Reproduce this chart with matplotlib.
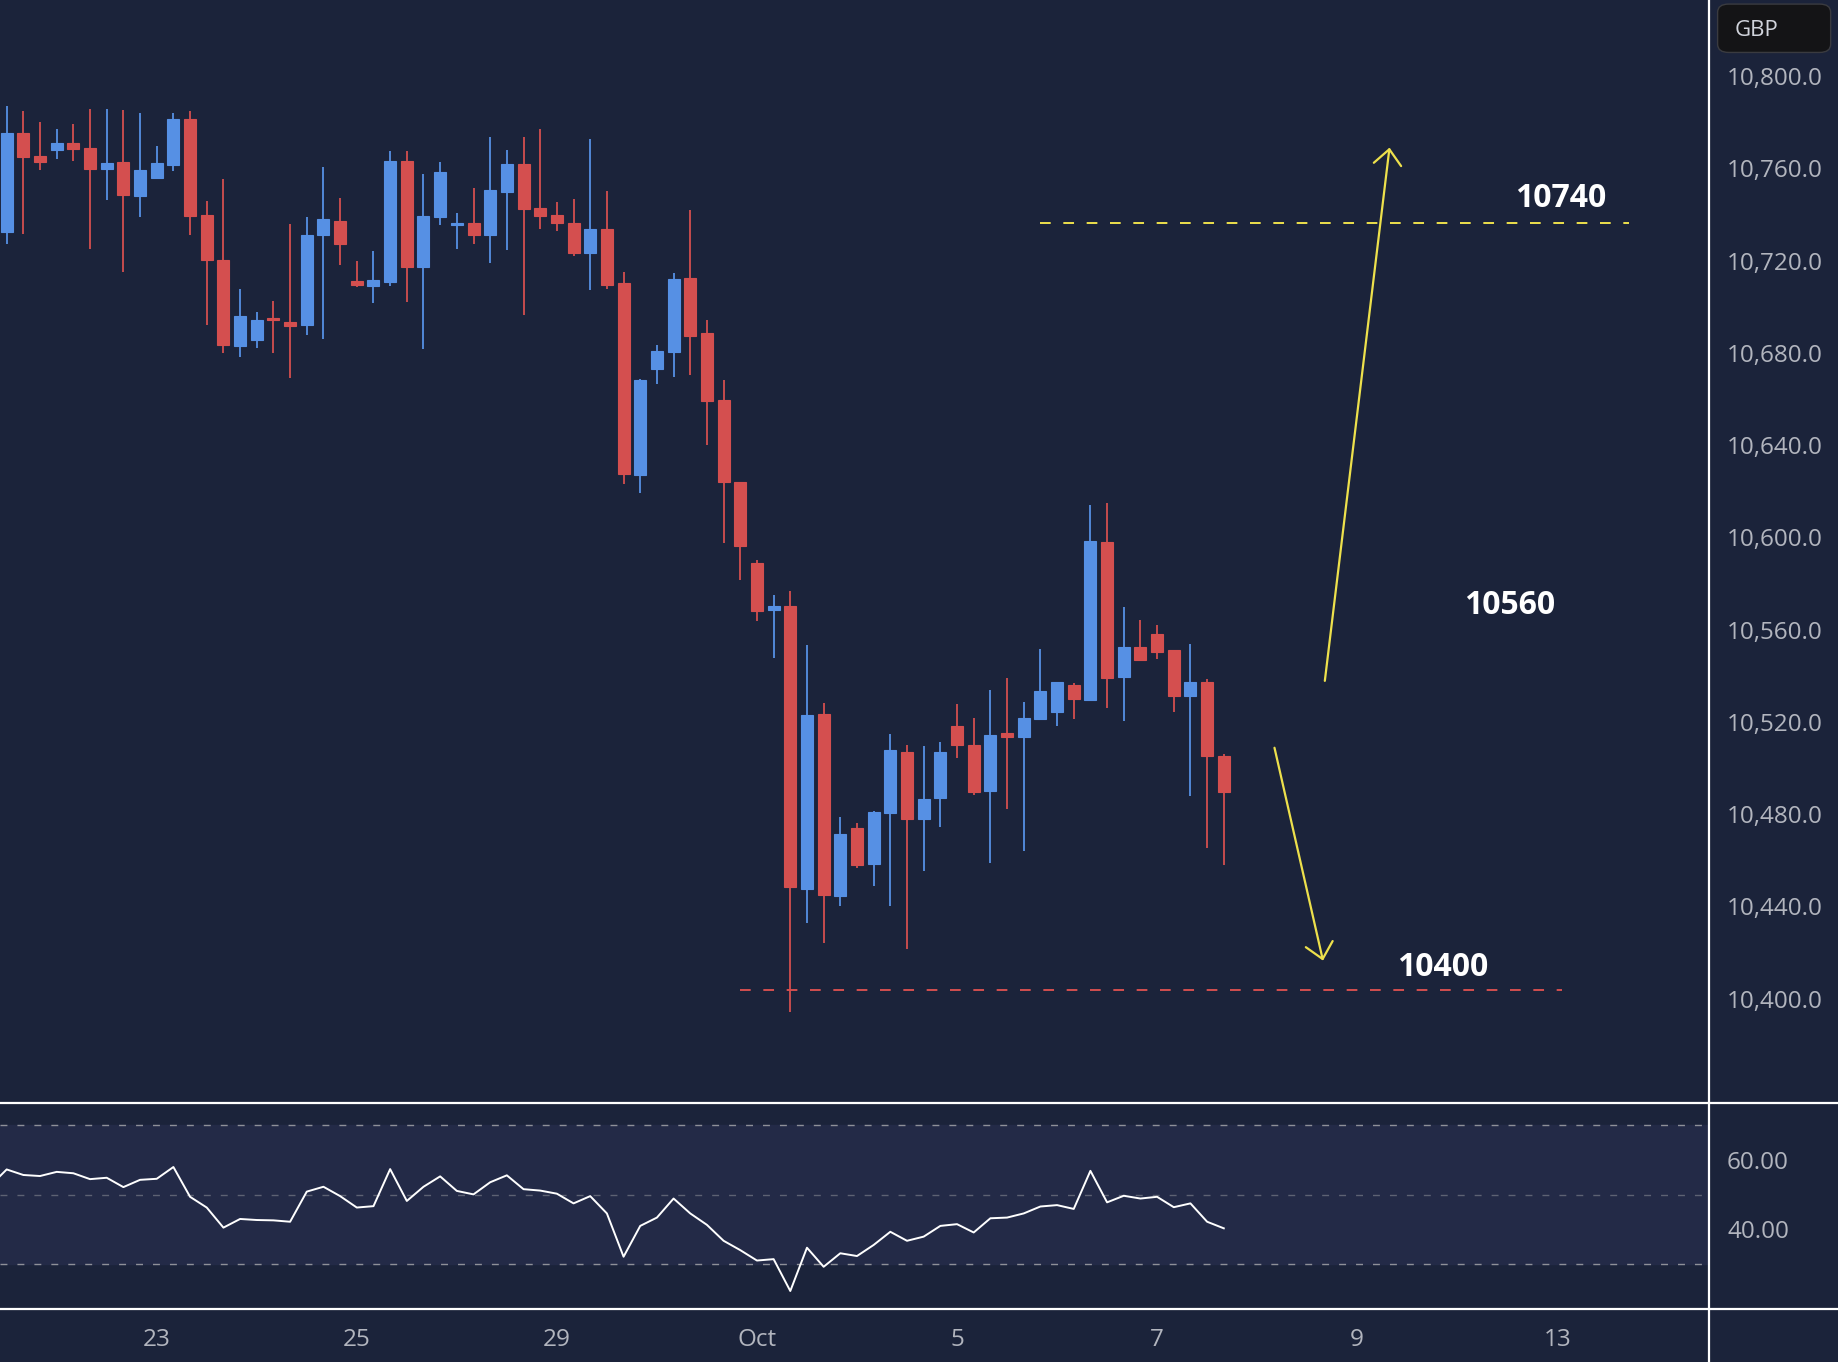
import numpy as np
import matplotlib.pyplot as plt
from matplotlib.lines import Line2D
from matplotlib.patches import FancyBboxPatch, FancyArrowPatch

# 4h candles, index 0..73
opens = [
    10732.2, 10775.2, 10765.2, 10768.0, 10770.9, 10769.0, 10759.8, 10762.6, 10748.0, 10755.9,
    10761.5, 10781.6, 10739.7, 10720.3, 10683.2, 10685.8, 10695.2, 10693.3, 10692.3, 10730.9,
    10737.1, 10711.1, 10709.2, 10710.9, 10763.1, 10717.4, 10739.1, 10735.6, 10736.2, 10731.3,
    10749.8, 10761.8, 10742.7, 10739.7, 10736.2, 10723.5, 10733.6, 10710.2, 10626.9, 10672.8,
    10680.6, 10712.4, 10688.5, 10659.6, 10624.2, 10588.8, 10568.6, 10570.1, 10447.6, 10523.4,
    10444.4, 10473.9, 10458.2, 10480.6, 10506.8, 10478.1, 10486.8, 10518.1, 10509.9, 10490.2,
    10515.0, 10513.6, 10521.4, 10524.4, 10535.9, 10529.6, 10597.9, 10539.6, 10552.3, 10558.0,
    10551.0, 10531.4, 10537.5, 10505.4]
closes = [
    10775.2, 10765.0, 10762.8, 10770.9, 10768.4, 10759.8, 10762.2, 10748.5, 10759.2, 10762.2,
    10781.6, 10739.5, 10720.4, 10683.5, 10695.9, 10694.3, 10694.4, 10691.8, 10731.0, 10737.9,
    10727.0, 10709.6, 10711.5, 10763.1, 10717.4, 10739.2, 10758.3, 10736.2, 10730.9, 10750.5,
    10761.8, 10742.6, 10739.5, 10736.5, 10723.5, 10733.6, 10709.6, 10627.4, 10668.3, 10680.7,
    10712.1, 10687.5, 10659.3, 10623.9, 10596.3, 10568.3, 10570.1, 10448.3, 10522.9, 10444.8,
    10471.5, 10457.8, 10481.1, 10507.7, 10477.8, 10486.6, 10506.9, 10509.8, 10489.8, 10514.5,
    10513.6, 10521.7, 10533.2, 10537.1, 10530.1, 10598.3, 10539.0, 10552.3, 10546.9, 10550.5,
    10531.4, 10537.1, 10505.4, 10489.8]
highs = [
    10787.2, 10785.0, 10779.9, 10777.2, 10779.1, 10785.9, 10785.9, 10785.5, 10784.2, 10769.9,
    10783.9, 10785.0, 10745.8, 10755.3, 10707.6, 10697.6, 10702.5, 10735.8, 10738.8, 10760.8,
    10747.0, 10719.7, 10724.1, 10767.7, 10767.4, 10757.4, 10762.6, 10740.5, 10751.4, 10773.5,
    10767.9, 10773.5, 10777.0, 10745.3, 10746.6, 10772.6, 10750.1, 10714.9, 10668.6, 10683.5,
    10714.5, 10741.8, 10694.2, 10668.3, 10624.2, 10590.2, 10574.9, 10576.7, 10553.2, 10528.1,
    10478.9, 10476.3, 10481.5, 10514.7, 10509.9, 10509.6, 10511.1, 10527.8, 10521.7, 10533.8,
    10539.0, 10528.6, 10551.6, 10537.5, 10536.8, 10614.1, 10614.7, 10569.7, 10564.1, 10562.0,
    10551.0, 10553.7, 10538.6, 10506.0]
lows = [
    10727.4, 10731.6, 10759.3, 10764.0, 10763.2, 10725.2, 10746.3, 10715.2, 10739.1, 10755.9,
    10758.9, 10731.3, 10692.3, 10680.1, 10678.1, 10682.3, 10680.1, 10669.0, 10687.9, 10686.2,
    10718.3, 10708.7, 10701.8, 10709.2, 10702.2, 10681.9, 10735.5, 10725.2, 10727.0, 10719.1,
    10724.4, 10696.6, 10733.9, 10733.0, 10721.8, 10707.4, 10707.9, 10623.0, 10619.1, 10666.3,
    10669.7, 10670.6, 10639.9, 10597.6, 10581.7, 10563.9, 10547.7, 10394.2, 10432.7, 10424.0,
    10440.0, 10456.8, 10449.0, 10440.0, 10421.5, 10455.3, 10474.4, 10504.2, 10488.1, 10458.7,
    10482.4, 10464.2, 10521.1, 10518.4, 10521.4, 10529.6, 10526.2, 10520.5, 10546.5, 10547.4,
    10524.4, 10487.8, 10465.3, 10457.9]

# RSI, first value belongs to the bar before index 0
rsi = [
    52.5, 57.3, 55.7, 55.4, 56.6, 56.2, 54.5, 54.9, 52.2, 54.3, 54.6,
    58.0, 49.4, 46.3, 40.5, 43.0, 42.7, 42.6, 42.2, 50.9, 52.3,
    49.6, 46.3, 46.7, 57.4, 48.2, 52.3, 55.3, 51.1, 50.1, 53.6,
    55.6, 51.6, 51.2, 50.3, 47.5, 49.6, 44.6, 32.1, 41.0, 43.4,
    48.9, 44.6, 41.3, 36.7, 34.0, 31.0, 31.4, 22.2, 34.7, 29.2,
    33.1, 32.3, 35.5, 39.3, 36.7, 37.9, 41.0, 41.5, 39.1, 43.2,
    43.4, 44.6, 46.6, 47.0, 45.9, 56.9, 47.8, 49.7, 48.9, 49.4,
    46.4, 47.5, 42.2, 40.3]

date_pos = [9, 21, 33, 45, 57, 69, 81, 93]
date_labels = ["23", "25", "29", "Oct", "5", "7", "9", "13"]
price_ticks = np.arange(10400, 10801, 40)
rsi_ticks = [40, 60]
rsi_levels = [70, 50, 30]

resistance = 10736.5   # "10740"
support = 10403.8      # "10400"
# projected paths (bar index, price)
up_path = [(79.06, 10537.8), (82.94, 10769.0)]
down_path = [(76.04, 10508.8), (78.95, 10416.5)]

BG = "#1b233a"
BAND = "#232a47"
UP = "#5690e4"
DOWN = "#d44f4f"
YELLOW = "#ede04c"
TXT = "#b2b5be"
FONT = "Open Sans"

plt.rcParams['font.family'] = [FONT, 'DejaVu Sans']

fig = plt.figure(figsize=(18.38, 13.62), dpi=100)
fig.patch.set_facecolor(BG)

ax = fig.add_axes([0, 0.1902, 0.9298, 0.8098])
ax2 = fig.add_axes([0, 0.0389, 0.9298, 0.1513])
for a in (ax, ax2):
    a.set_facecolor(BG)
    for s in a.spines.values():
        s.set_visible(False)
    a.set_xlim(-0.4, 102.1)
    a.yaxis.tick_right()
    a.tick_params(axis='y', length=0, pad=13, labelsize=17.5, labelcolor=TXT)

# candles
x = np.arange(len(opens))
o = np.array(opens)
c = np.array(closes)
colors = [UP if cc >= oo else DOWN for oo, cc in zip(o, c)]
ax.vlines(x, lows, highs, colors=colors, lw=1.3, zorder=2)
ax.bar(x, np.abs(c - o), bottom=np.minimum(o, c), width=0.72,
       color=colors, edgecolor=colors, lw=0.8, zorder=3)

ax.set_ylim(10354.8, 10833.0)
ax.set_yticks(price_ticks)
ax.set_yticklabels([f"{v:,.1f}" for v in price_ticks])
ax.set_xticks([])

# levels
ax.hlines(resistance, 61.97, 97.3, colors=YELLOW, lw=1.4, linestyles=(0, (5.5, 6.5)))
ax.hlines(support, 43.97, 93.3, colors=DOWN, lw=1.4, linestyles=(0, (5.5, 6.5)))

for (p0, p1) in (up_path, down_path):
    ax.add_patch(FancyArrowPatch(p0, p1, arrowstyle="->,head_length=0.5,head_width=0.45",
                                 mutation_scale=22, color=YELLOW, lw=1.6,
                                 shrinkA=0, shrinkB=0, zorder=4))

lbl = dict(ha='center', va='center', fontsize=23, fontweight='bold', color='white')
ax.text(93.18, 10746.9, "10740", **lbl)
ax.text(90.14, 10570.5, "10560", **lbl)
ax.text(86.15, 10413.7, "10400", **lbl)

# RSI pane
ax2.set_ylim(17.0, 76.5)
ax2.axhspan(30, 70, color=BAND, zorder=0)
for lv in rsi_levels:
    col = "#5d6273" if lv == 50 else "#8e9099"
    ax2.axhline(lv, color=col, lw=1.0, dashes=(5, 7.2), zorder=1)
ax2.plot(np.arange(-1, len(rsi) - 1), rsi, color='white', lw=1.4, zorder=3)
ax2.set_yticks(rsi_ticks)
ax2.set_yticklabels([f"{v:.2f}" for v in rsi_ticks])
ax2.set_xticks(date_pos)
ax2.set_xticklabels(date_labels)
ax2.tick_params(axis='x', length=0, pad=14, labelsize=17.5, labelcolor=TXT)

# pane separators
for yy in (0.1902, 0.0389):
    fig.add_artist(Line2D([0, 1], [yy, yy], transform=fig.transFigure, color='white', lw=1.6))
fig.add_artist(Line2D([0.9298, 0.9298], [0, 1], transform=fig.transFigure, color='white', lw=1.6))

# currency badge
fig.add_artist(FancyBboxPatch((0.9345, 0.9615), 0.0615, 0.0355, transform=fig.transFigure,
                              boxstyle="round,pad=0,rounding_size=0.006",
                              facecolor="#141416", edgecolor="#3a3b40", lw=1.0))
fig.text(0.9435, 0.9775, "GBP", ha='left', va='center', fontsize=16, color="#d1d4dc")

fig.savefig("out.png", dpi=100, facecolor=BG)
